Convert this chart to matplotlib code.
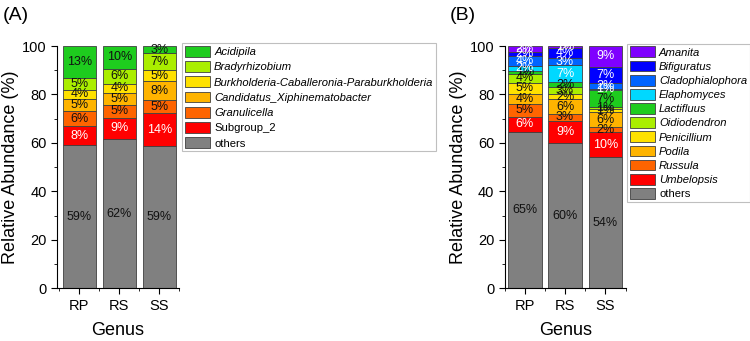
import numpy as np
import matplotlib.pyplot as plt
from matplotlib.patches import Patch

plt.rcParams['font.family'] = ['Liberation Sans', 'DejaVu Sans']

samples = ['RP', 'RS', 'SS']

# panel A - bacteria, stacked bottom -> top
genera_a = ['others', 'Subgroup_2', 'Granulicella', 'Candidatus_Xiphinematobacter',
            'Burkholderia-Caballeronia-Paraburkholderia', 'Bradyrhizobium', 'Acidipila']
values_a = [
    [59.0, 61.6, 58.6],   # others
    [8.0, 8.8, 13.8],     # Subgroup_2
    [6.0, 5.2, 5.2],      # Granulicella
    [5.0, 5.1, 7.8],      # Candidatus_Xiphinematobacter
    [4.0, 3.8, 4.8],      # Burkholderia...
    [5.0, 6.0, 6.8],      # Bradyrhizobium
    [13.0, 9.6, 3.0],     # Acidipila
]
colors_a = ['#808080', '#ff0000', '#ff6400', '#ffb400', '#ffe100', '#aaee00', '#1ecc1e']
white_a = ['Subgroup_2']

# panel B - fungi, stacked bottom -> top
genera_b = ['others', 'Umbelopsis', 'Russula', 'Podila', 'Penicillium', 'Oidiodendron',
            'Lactifluus', 'Elaphomyces', 'Cladophialophora', 'Bifiguratus', 'Amanita']
values_b = [
    [64.6, 60.0, 54.2],   # others
    [6.2, 9.0, 10.2],     # Umbelopsis
    [5.2, 3.0, 2.2],      # Russula
    [4.2, 6.0, 6.0],      # Podila
    [4.6, 2.0, 1.2],      # Penicillium
    [3.8, 3.0, 1.0],      # Oidiodendron
    [1.2, 2.0, 7.0],      # Lactifluus
    [2.0, 7.0, 0.6],      # Elaphomyces
    [4.0, 3.0, 2.2],      # Cladophialophora
    [1.8, 4.0, 6.8],      # Bifiguratus
    [2.4, 1.0, 8.6],      # Amanita
]
colors_b = ['#808080', '#ff0000', '#ff6400', '#ffb400', '#ffe100', '#aaee00',
            '#1ecc1e', '#00d8ff', '#0064ff', '#0000ff', '#7f00ff']
white_b = ['Umbelopsis', 'Elaphomyces', 'Cladophialophora', 'Bifiguratus', 'Amanita']

non_italic = ['others', 'Subgroup_2']

fig = plt.figure(figsize=(7.5, 3.41), dpi=100)


def panel(rect, xlim, genera, values, colors, white, tag, leg_pos, spacing):
    ax = fig.add_axes(rect)
    x = np.arange(len(samples))
    bottom = np.zeros(len(samples))
    for g, v, c in zip(genera, values, colors):
        v = np.array(v)
        ax.bar(x, v, 0.83, bottom=bottom, color=c, edgecolor='#404040', linewidth=0.6)
        tc = 'white' if g in white else '#111111'
        for xi, b, vi in zip(x, bottom, v):
            ax.text(xi, b + vi / 2, f'{vi:.0f}%', ha='center', va='center',
                    fontsize=9, color=tc)
        bottom += v
    ax.set_xlim(*xlim)
    ax.set_ylim(0, 100)
    ax.set_xticks(x)
    ax.set_xticklabels(samples, fontsize=10.5)
    ax.set_xticks([-0.5, 0.5, 1.5, 2.5], minor=True)
    ax.set_yticks([0, 20, 40, 60, 80, 100])
    ax.set_yticks(np.arange(10, 100, 20), minor=True)
    ax.tick_params(axis='y', labelsize=10.5)
    ax.tick_params(which='both', direction='out')
    ax.tick_params(which='major', length=4)
    ax.tick_params(which='minor', length=2.5)
    ax.spines['top'].set_visible(False)
    ax.spines['right'].set_visible(False)
    ax.set_ylabel('Relative Abundance (%)', fontsize=13, labelpad=2)
    ax.set_xlabel('Genus', fontsize=13, labelpad=7)
    fig.text(rect[0] - 0.073, 0.955, tag, fontsize=14, va='center')

    handles = [Patch(facecolor=c, edgecolor='#404040', linewidth=0.6)
               for c in colors[::-1]]
    leg = fig.legend(handles, genera[::-1], loc='upper left', bbox_to_anchor=leg_pos,
                     fontsize=8.1, frameon=True, fancybox=False, edgecolor='#b0b0b0',
                     handlelength=2.25, handleheight=1.1, labelspacing=spacing,
                     handletextpad=0.35, borderpad=0.25, borderaxespad=0)
    leg.get_frame().set_linewidth(0.8)
    for t in leg.get_texts():
        if t.get_text() not in non_italic:
            t.set_fontstyle('italic')
    return ax


panel([0.076, 0.155, 0.163, 0.71], (-0.56, 2.5), genera_a, values_a, colors_a,
      white_a, '(A)', (0.2427, 0.874), 0.36)
panel([0.673, 0.155, 0.161, 0.71], (-0.5, 2.5), genera_b, values_b, colors_b,
      white_b, '(B)', (0.836, 0.872), 0.26)

fig.savefig('out.png', dpi=100)
